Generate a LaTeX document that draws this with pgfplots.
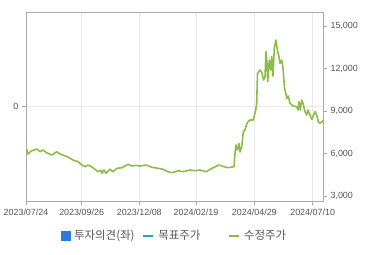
\documentclass[border=0pt]{standalone}
\usepackage{fontspec}
\setmainfont{Liberation Sans}
\newfontfamily\kr{Noto Sans CJK KR}
\usepackage{pgfplots}
\pgfplotsset{compat=1.18}
\definecolor{pricegreen}{RGB}{141,189,72}
\definecolor{bluesq}{RGB}{40,122,222}
\definecolor{tealline}{RGB}{40,165,190}
\definecolor{gridc}{RGB}{232,232,232}
\definecolor{axc}{RGB}{170,170,170}
\definecolor{labc}{RGB}{85,85,85}
\pgfplotstableread{
x v
0.7 6312
2 5981
5.7 6214
11 6333
14 6143
17 6263
21 6052
26 5911
30.7 6143
34 5981
42 5770
47 5558
52 5439
56 5206
59 5086
62 5206
66 5065
72 4734
75 4854
76 4621
78 4854
80 4621
84 4903
87 4734
91 4974
96 5016
102 5255
106 5136
110 5185
114 5136
120 5206
126 5044
132 4974
137 4903
142 4734
146 4663
152 4804
157 4734
164 4854
169 4804
174 4854
180 4734
186 4974
193 5206
198 5086
202 5016
208 5086
209 6030
210 6615
211 6263
212 6404
213 6721
214 6122
215.7 6495
217.3 7552
219 7672
220.7 8095
222 8257
224 8377
227.3 8377
229.7 9081
230.7 9553
231.5 11667
234 11900
236 11688
237.5 11195
239 11428
240 13189
241 12372
241.7 11075
243.3 12604
244.7 11900
245.7 12837
247 11477
248.3 13429
250 14014
251.3 13309
253 12837
254 12372
255.7 12604
257 12020
258.5 10631
259.7 10258
261 9906
262.3 10068
264 9553
267.3 9363
270.7 9314
272 9081
273 9666
274.3 9081
275.7 9786
277 9553
279 8962
280.7 8729
282 9081
284 8729
285.7 8426
287 8609
289 8962
290.7 8729
292.3 8257
294 8144
296 8257
297 8377
}\pricedata
\begin{document}
\begin{tikzpicture}
\begin{axis}[
  at={(26bp,54bp)}, anchor=south west,
  scale only axis, width=297bp, height=189bp,
  xmin=0, xmax=297, ymin=-1, ymax=1,
  xtick={0,55.7,113.3,170,228.3,286.7},
  xticklabels={2023/07/24,2023/09/26,2023/12/08,2024/02/19,2024/04/29,2024/07/10},
  ytick={0},
  xtick pos=bottom, ytick pos=left,
  tick align=outside, major tick length=4bp,
  grid=major, grid style={gridc, line width=0.8bp},
  axis line style={axc, line width=0.9bp},
  tick style={axc, line width=0.8bp},
  ticklabel style={labc, font=\fontsize{9}{10}\selectfont},
  /pgf/number format/assume math mode=true,
]
\end{axis}
\begin{axis}[
  at={(26bp,54bp)}, anchor=south west,
  scale only axis, width=297bp, height=189bp,
  xmin=0, xmax=297, ymin=2670, ymax=15990,
  axis x line=none, axis y line*=right,
  ytick={3000,6000,9000,12000,15000},
  scaled y ticks=false,
  tick align=outside, major tick length=4bp,
  axis line style={axc, line width=0.9bp},
  tick style={axc, line width=0.8bp},
  ticklabel style={labc, font=\fontsize{9}{10}\selectfont},
  /pgf/number format/.cd, 1000 sep={,}, assume math mode=true,
  /pgfplots/.cd,
  legend style={at={(0.5,-0.185)}, anchor=center, draw=none, fill=none,
    font=\kr\fontsize{11.5}{12}\selectfont, text=labc,
    /tikz/every even column/.append style={column sep=6bp},
    /tikz/every odd column/.append style={column sep=2bp}},
  legend columns=3,
]
\addlegendimage{legend image code/.code={\fill[bluesq] (0bp,-4.5bp) rectangle (9bp,4.5bp);}}
\addlegendentry{투자의견(좌)}
\addlegendimage{legend image code/.code={\draw[tealline, line width=1.8bp] (0bp,0bp) -- (10bp,0bp);}}
\addlegendentry{\makebox[62bp][l]{목표주가}}
\addplot[pricegreen, line width=1.6bp, line join=round,
  legend image code/.code={\draw[pricegreen, line width=1.8bp] (0bp,0bp) -- (10bp,0bp);}]
  table[x=x, y=v] {\pricedata};
\addlegendentry{수정주가}
\end{axis}
\pgfresetboundingbox
\path[use as bounding box] (0,0) rectangle (370bp,255bp);
\end{tikzpicture}
\end{document}
